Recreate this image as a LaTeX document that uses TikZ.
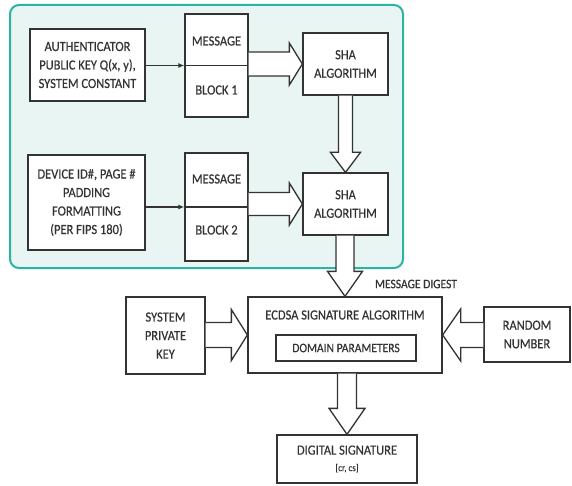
\documentclass[tikz,border=0pt]{standalone}
\usepackage{fontspec}
\setmainfont{Carlito}[FakeStretch=0.89,FakeBold=0.4]
\usetikzlibrary{calc,arrows.meta}
\definecolor{ink}{HTML}{333333}
\definecolor{tealb}{HTML}{2BB3A3}
\definecolor{tealf}{HTML}{E8F5F3}
\tikzset{
  box/.style={draw=ink,line width=1.3pt,fill=white,inner sep=0pt,align=center,text=ink,
    font=\fontsize{14}{18.5}\selectfont},
  lbl/.style={text=ink,inner sep=0pt,align=center,font=\fontsize{14}{18.5}\selectfont},
  fat/.style={draw=ink,line width=1.3pt,fill=white,line join=miter},
  thin/.style={draw=ink,line width=1.2pt,-{Latex[length=6pt,width=5pt]}},
}
% right-pointing fat arrow: from, to, shaft half width, head half width, head length
\newcommand{\fatR}[5]{\draw[fat] let \p1=(#1), \p2=(#2) in
  (\x1,\y2+#3) -- (\x2-#5,\y2+#3) -- (\x2-#5,\y2+#4) -- (\x2,\y2) -- (\x2-#5,\y2-#4) -- (\x2-#5,\y2-#3) -- (\x1,\y2-#3);}
\newcommand{\fatL}[5]{\draw[fat] let \p1=(#1), \p2=(#2) in
  (\x1,\y2+#3) -- (\x2+#5,\y2+#3) -- (\x2+#5,\y2+#4) -- (\x2,\y2) -- (\x2+#5,\y2-#4) -- (\x2+#5,\y2-#3) -- (\x1,\y2-#3);}
\newcommand{\fatD}[5]{\draw[fat] let \p1=(#1), \p2=(#2) in
  (\x2-#3,\y1) -- (\x2-#3,\y2+#5) -- (\x2-#4,\y2+#5) -- (\x2,\y2) -- (\x2+#4,\y2+#5) -- (\x2+#3,\y2+#5) -- (\x2+#3,\y1);}
\begin{document}
\begin{tikzpicture}[x=1pt,y=-1pt]
\useasboundingbox[fill=white] (0,0) rectangle (572,486);
% teal group
\draw[draw=tealb,fill=tealf,line width=2pt,rounded corners=9pt] (10,5) rectangle (403,268);

% top row
\node[box,minimum width=115pt,minimum height=72pt] (auth) at (87.5,65)
  {AUTHENTICATOR\\PUBLIC KEY Q(x, y),\\SYSTEM CONSTANT};
\node[box,minimum width=63pt,minimum height=103pt] (blk1) at (216.5,65.5) {};
\draw[ink,line width=1.3pt] (blk1.west) -- (blk1.east);
\node[lbl] (m1) at (216.5,41) {MESSAGE};
\node[lbl] (b1) at (216.5,90) {BLOCK 1};
\node[box,minimum width=85pt,minimum height=62pt] (sha1) at (345.5,64) {SHA\\ALGORITHM};

% second row
\node[box,minimum width=117pt,minimum height=95pt] (dev) at (86.5,202.5)
  {DEVICE ID\#, PAGE \#\\PADDING\\FORMATTING\\(PER FIPS 180)};
\node[box,minimum width=63pt,minimum height=108pt] (blk2) at (216.5,207) {};
\draw[ink,line width=1.3pt] (blk2.west) -- (blk2.east);
\node[lbl] (m2) at (216.5,179) {MESSAGE};
\node[lbl] (b2) at (216.5,230) {BLOCK 2};
\node[box,minimum width=85pt,minimum height=62pt] (sha2) at (345.5,204) {SHA\\ALGORITHM};

% thin arrows
\draw[thin] (auth.east |- blk1.west) -- (blk1.west);
\draw[thin] (dev.east |- blk2.west) -- (blk2.west);

% fat arrows in group
\fatR{blk1.east}{sha1.west}{12pt}{21pt}{13pt}
\fatR{blk2.east}{sha2.west}{11.5pt}{21pt}{13pt}
\fatD{sha1.south}{sha2.north}{7pt}{15pt}{20pt}

% lower part
\node[box,minimum width=194pt,minimum height=76pt] (ecdsa) at (345,335) {};
\node[lbl] (etitle) at (345,315) {ECDSA SIGNATURE ALGORITHM};
\node[box,minimum width=140pt,minimum height=26pt] (dom) at (346,348)
  {\fontsize{13}{14}\selectfont DOMAIN PARAMETERS};
\node[box,minimum width=79pt,minimum height=77pt] (spk) at (165.5,335.5) {SYSTEM\\PRIVATE\\KEY};
\node[box,minimum width=86pt,minimum height=55pt] (rn) at (527,334.5) {RANDOM\\NUMBER};
\node[box,minimum width=140pt,minimum height=48pt] (ds) at (347,459)
  {DIGITAL SIGNATURE\\[-2pt]{\fontsize{10}{11}\selectfont [cr, cs]}};
\node[lbl,font=\fontsize{13}{14}\selectfont] (md) at (416,284) {MESSAGE DIGEST};

\fatD{sha2.south}{ecdsa.north}{9pt}{17.5pt}{25pt}
\fatR{spk.east}{ecdsa.west}{12.5pt}{25.5pt}{16pt}
\fatL{rn.west}{ecdsa.east}{12.5pt}{26pt}{18pt}
\fatD{ecdsa.south}{ds.north}{9.5pt}{18pt}{26pt}
\end{tikzpicture}
\end{document}
